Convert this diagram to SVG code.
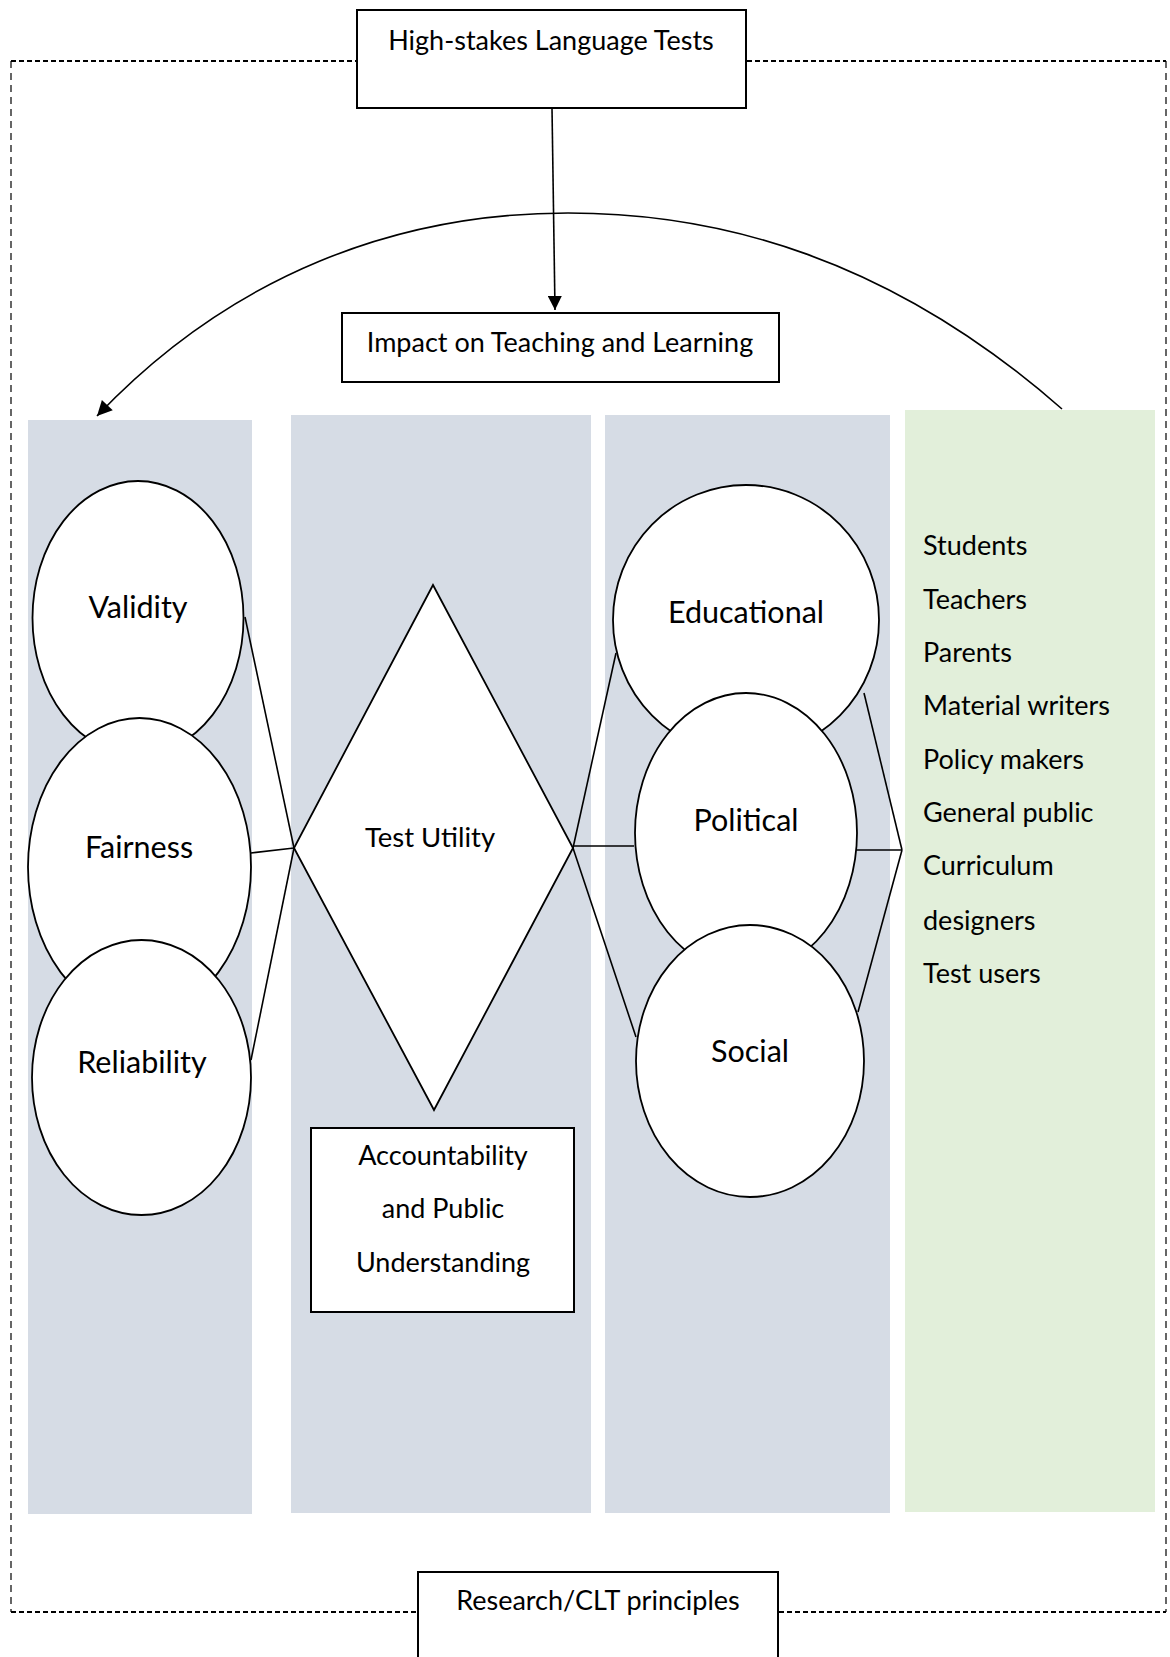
<svg xmlns="http://www.w3.org/2000/svg" width="1170" height="1657" viewBox="0 0 1170 1657">
<style>
.t{font-family:Lato,"Open Sans","Liberation Sans",sans-serif;fill:#000}
.big{font-size:30.5px;text-anchor:middle}
.mid{font-size:27.5px;text-anchor:middle}
.sm{font-size:27px;text-anchor:middle}
.lst{font-size:27px}
.box{fill:#fff;stroke:#000;stroke-width:2}
.ell{fill:#fff;stroke:#000;stroke-width:1.8}
.col{fill:#D6DCE5}
.ln{stroke:#000;stroke-width:1.6;fill:none}
</style>
<defs>
<marker id="ah" viewBox="0 0 10 10" refX="10" refY="5" markerWidth="15" markerHeight="14" markerUnits="userSpaceOnUse" orient="auto"><path d="M0,0 L10,5 L0,10 z" fill="#000"/></marker>
<marker id="ah2" viewBox="0 0 10 10" refX="10" refY="5" markerWidth="17" markerHeight="15" markerUnits="userSpaceOnUse" orient="auto"><path d="M0,0 L10,5 L0,10 z" fill="#000"/></marker>
</defs>
<rect width="1170" height="1657" fill="#fff"/>
<g id="frame">
<line x1="11" y1="61" x2="1166" y2="61" stroke="#000" stroke-width="2" stroke-dasharray="5 3"/>
<line x1="11" y1="1612" x2="1166" y2="1612" stroke="#000" stroke-width="2" stroke-dasharray="5 3"/>
<line x1="11" y1="61" x2="11" y2="1612" stroke="#000" stroke-width="1.2" stroke-dasharray="7 5"/>
<line x1="1166" y1="61" x2="1166" y2="1612" stroke="#000" stroke-width="1.2" stroke-dasharray="7 5"/>
</g>
<g id="columns">
<rect class="col" x="28" y="420" width="224" height="1094"/>
<rect class="col" x="291" y="415" width="300" height="1098"/>
<rect class="col" x="605" y="415" width="285" height="1098"/>
<rect x="905" y="410" width="250" height="1102" fill="#E2EFDA"/>
</g>
<g id="connectors">
<line class="ln" x1="552" y1="108" x2="555" y2="310" marker-end="url(#ah)"/>
<path class="ln" d="M1062,409 C890,258 720,213 568,213 C398,213 232,274 97,416" stroke-width="2" marker-end="url(#ah2)"/>
<line class="ln" x1="245" y1="617" x2="294" y2="848"/>
<line class="ln" x1="251" y1="853" x2="294" y2="848"/>
<line class="ln" x1="251" y1="1060" x2="294" y2="848"/>
<line class="ln" x1="573" y1="848" x2="616" y2="653"/>
<line class="ln" x1="573" y1="846" x2="634" y2="846"/>
<line class="ln" x1="573" y1="848" x2="636" y2="1037"/>
<line class="ln" x1="864" y1="693" x2="902" y2="850"/>
<line class="ln" x1="854" y1="850" x2="902" y2="850"/>
<line class="ln" x1="858" y1="1012" x2="902" y2="850"/>
</g>
<g id="high-stakes">
<rect class="box" x="357" y="10" width="389" height="98"/>
<text class="t sm" x="551" y="50">High-stakes Language Tests</text>
</g>
<g id="impact">
<rect class="box" x="342" y="313" width="437" height="69"/>
<text class="t sm" x="560" y="352">Impact on Teaching and Learning</text>
</g>
<g id="validity">
<ellipse class="ell" cx="138" cy="618" rx="105.5" ry="137"/>
<text class="t big" x="138" y="618">Validity</text>
</g>
<g id="fairness">
<ellipse class="ell" cx="139.5" cy="867" rx="111.5" ry="149"/>
<text class="t big" x="139" y="858">Fairness</text>
</g>
<g id="reliability">
<ellipse class="ell" cx="141.5" cy="1077.5" rx="109.5" ry="137.5"/>
<text class="t big" x="142" y="1073">Reliability</text>
</g>
<g id="test-utility">
<polygon class="ell" points="433,585 573,848 434,1110 294,848"/>
<text class="t mid" x="430" y="847">Test Utility</text>
</g>
<g id="accountability">
<rect class="box" x="311" y="1128" width="263" height="184"/>
<text class="t sm" x="443" y="1165">Accountability</text>
<text class="t sm" x="443" y="1218">and Public</text>
<text class="t sm" x="443" y="1272">Understanding</text>
</g>
<g id="educational">
<ellipse class="ell" cx="746" cy="620" rx="133" ry="135"/>
<text class="t big" x="746" y="623">Educational</text>
</g>
<g id="political">
<ellipse class="ell" cx="746" cy="833" rx="111" ry="140"/>
<text class="t big" x="746" y="831">Political</text>
</g>
<g id="social">
<ellipse class="ell" cx="750" cy="1061" rx="114" ry="136"/>
<text class="t big" x="750" y="1062">Social</text>
</g>
<g id="stakeholders">
<text class="t lst" x="923" y="555">Students</text>
<text class="t lst" x="923" y="609">Teachers</text>
<text class="t lst" x="923" y="662">Parents</text>
<text class="t lst" x="923" y="715">Material writers</text>
<text class="t lst" x="923" y="769">Policy makers</text>
<text class="t lst" x="923" y="822">General public</text>
<text class="t lst" x="923" y="875">Curriculum</text>
<text class="t lst" x="923" y="930">designers</text>
<text class="t lst" x="923" y="983">Test users</text>
</g>
<g id="research">
<rect class="box" x="418" y="1572" width="360" height="95"/>
<text class="t sm" x="598" y="1610">Research/CLT principles</text>
</g>
</svg>
